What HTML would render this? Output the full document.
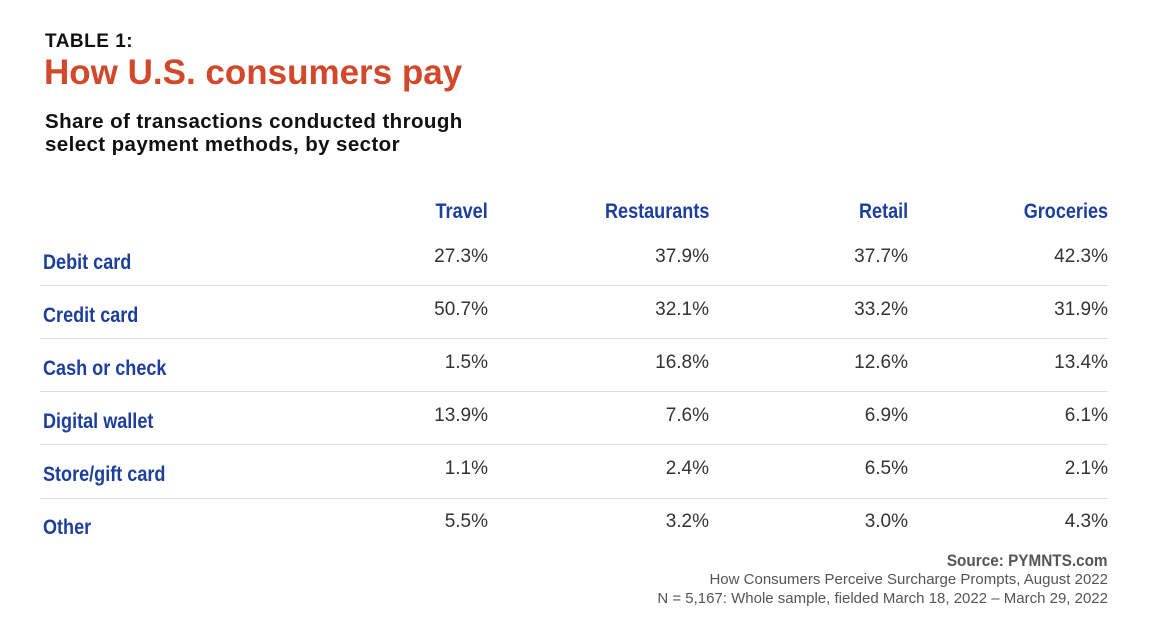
<!DOCTYPE html>
<html><head><style>
body{margin:0;width:1151px;height:643px;background:#fff;position:relative;font-family:"Liberation Sans",sans-serif;overflow:hidden}
.a{position:absolute;white-space:nowrap}
.lab{font-weight:bold;color:#1c3f9e;font-size:21px;left:43px;transform:scaleX(0.86);transform-origin:left center}
.hd{font-weight:bold;color:#1c3f9e;font-size:21px;text-align:right;transform:scaleX(0.86);transform-origin:right center}
.v{font-size:19px;color:#333;text-align:right}
.ln{position:absolute;left:40px;width:1068px;height:1px;background:#ddd}
</style></head><body>
<div class="a" style="left:45px;top:31px;font-size:19px;font-weight:bold;color:#111;letter-spacing:0.5px">TABLE 1:</div>
<div class="a" style="left:44px;top:53px;font-size:35px;font-weight:bold;color:#d2482b">How U.S. consumers pay</div>
<div class="a" style="left:45px;top:110px;font-size:20.5px;font-weight:bold;color:#111;line-height:23px;letter-spacing:0.4px">Share of transactions conducted through<br>select payment methods, by sector</div>

<div class="a hd" style="right:663px;top:200px">Travel</div>
<div class="a hd" style="right:442px;top:200px">Restaurants</div>
<div class="a hd" style="right:243px;top:200px">Retail</div>
<div class="a hd" style="right:43px;top:200px">Groceries</div>

<div class="a lab" style="top:251px">Debit card</div>
<div class="a lab" style="top:304px">Credit card</div>
<div class="a lab" style="top:357px">Cash or check</div>
<div class="a lab" style="top:410px">Digital wallet</div>
<div class="a lab" style="top:463px">Store/gift card</div>
<div class="a lab" style="top:516px">Other</div>

<div class="ln" style="top:285px"></div>
<div class="ln" style="top:338px"></div>
<div class="ln" style="top:391px"></div>
<div class="ln" style="top:444px"></div>
<div class="ln" style="top:498px"></div>

<div class="a v" style="right:663px;top:246px">27.3%</div><div class="a v" style="right:442px;top:246px">37.9%</div><div class="a v" style="right:243px;top:246px">37.7%</div><div class="a v" style="right:43px;top:246px">42.3%</div>
<div class="a v" style="right:663px;top:299px">50.7%</div><div class="a v" style="right:442px;top:299px">32.1%</div><div class="a v" style="right:243px;top:299px">33.2%</div><div class="a v" style="right:43px;top:299px">31.9%</div>
<div class="a v" style="right:663px;top:352px">1.5%</div><div class="a v" style="right:442px;top:352px">16.8%</div><div class="a v" style="right:243px;top:352px">12.6%</div><div class="a v" style="right:43px;top:352px">13.4%</div>
<div class="a v" style="right:663px;top:405px">13.9%</div><div class="a v" style="right:442px;top:405px">7.6%</div><div class="a v" style="right:243px;top:405px">6.9%</div><div class="a v" style="right:43px;top:405px">6.1%</div>
<div class="a v" style="right:663px;top:458px">1.1%</div><div class="a v" style="right:442px;top:458px">2.4%</div><div class="a v" style="right:243px;top:458px">6.5%</div><div class="a v" style="right:43px;top:458px">2.1%</div>
<div class="a v" style="right:663px;top:511px">5.5%</div><div class="a v" style="right:442px;top:511px">3.2%</div><div class="a v" style="right:243px;top:511px">3.0%</div><div class="a v" style="right:43px;top:511px">4.3%</div>

<div class="a" style="right:43px;top:551px;font-weight:bold;font-size:17px;color:#555;transform:scaleX(0.9);transform-origin:right center">Source: PYMNTS.com</div>
<div class="a" style="right:43px;top:571px;font-size:15px;color:#555">How Consumers Perceive Surcharge Prompts, August 2022</div>
<div class="a" style="right:43px;top:590px;font-size:15px;color:#555">N = 5,167: Whole sample, fielded March 18, 2022 – March 29, 2022</div>
</body></html>
